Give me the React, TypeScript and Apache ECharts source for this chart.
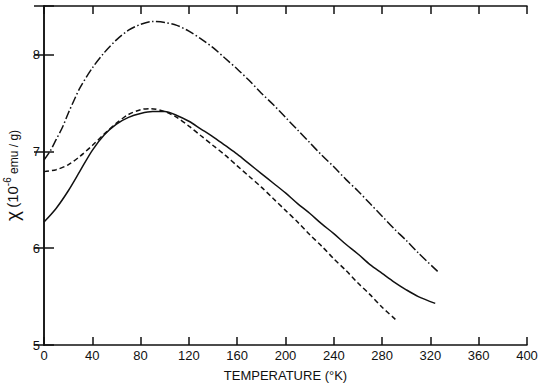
import React, { useEffect, useRef } from "react";
import * as echarts from "echarts";

const xTicks = [0, 40, 80, 120, 160, 200, 240, 280, 320, 360, 400];
const yTicks = [5, 6, 7, 8];

const solidT = [0, 10, 20, 30, 40, 50, 60, 70, 80, 90, 100, 110, 120, 130, 140, 150, 160, 170, 180, 190, 200, 210, 220, 230, 240, 250, 260, 270, 280, 290, 300, 310, 324];
const solidV = [6.27, 6.41, 6.59, 6.8, 7.01, 7.17, 7.28, 7.35, 7.39, 7.41, 7.41, 7.37, 7.31, 7.23, 7.15, 7.06, 6.97, 6.87, 6.77, 6.67, 6.57, 6.46, 6.36, 6.25, 6.15, 6.04, 5.94, 5.83, 5.74, 5.65, 5.57, 5.5, 5.43];

const dashT = [0, 10, 20, 30, 40, 50, 60, 70, 80, 88, 100, 110, 120, 130, 140, 150, 160, 170, 180, 190, 200, 210, 220, 230, 240, 250, 260, 270, 280, 291];
const dashV = [6.79, 6.81, 6.86, 6.95, 7.06, 7.18, 7.29, 7.38, 7.43, 7.44, 7.41, 7.35, 7.26, 7.16, 7.06, 6.96, 6.85, 6.74, 6.63, 6.51, 6.39, 6.27, 6.14, 6.02, 5.89, 5.77, 5.64, 5.52, 5.39, 5.265];

const dashDotT = [0, 5, 10, 15, 20, 25, 30, 40, 50, 60, 70, 80, 90, 100, 110, 120, 130, 140, 150, 160, 170, 180, 190, 200, 210, 220, 230, 240, 250, 260, 270, 280, 290, 300, 310, 326];
const dashDotV = [6.91, 7.0, 7.12, 7.24, 7.39, 7.53, 7.66, 7.86, 8.02, 8.15, 8.25, 8.31, 8.34, 8.33, 8.3, 8.24, 8.16, 8.07, 7.96, 7.85, 7.73, 7.6, 7.48, 7.35, 7.22, 7.09, 6.96, 6.84, 6.71, 6.59, 6.46, 6.33, 6.2, 6.08, 5.95, 5.76];

const pairs = (t: number[], v: number[]) => t.map((x, i) => [x, v[i]]);

const FONT = "Liberation Sans";

export default function App() {
  const ref = useRef<HTMLDivElement>(null);
  useEffect(() => {
    if (!ref.current) return;
    const chart = echarts.init(ref.current, null, { renderer: "svg" });
    const axisLine = { show: true, lineStyle: { color: "#111", width: 1.5 } };
    const tick = { show: true, inside: true, length: 8, lineStyle: { color: "#111", width: 1.5 } };
    const lineSeries = (name: string, data: number[][], type: any) => ({
      name,
      type: "line",
      data,
      smooth: 0.3,
      showSymbol: false,
      lineStyle: { color: "#111", width: 1.5, type },
      animation: false,
    });
    chart.setOption({
      animation: false,
      backgroundColor: "#fff",
      grid: { left: 44, right: 13, top: 6, bottom: 40, containLabel: false, outerBoundsMode: "none" },
      xAxis: [
        {
          type: "value",
          min: 0,
          max: 400,
          interval: 40,
          position: "bottom",
          axisLine,
          axisTick: tick,
          splitLine: { show: false },
          axisLabel: {
            color: "#111",
            fontFamily: FONT,
            fontSize: 13,
            margin: 4,
            formatter: (v: number) => (xTicks.includes(v) ? String(v) : ""),
          },
          name: "TEMPERATURE (°K)",
          nameLocation: "middle",
          nameGap: 24,
          nameTextStyle: { color: "#111", fontFamily: FONT, fontSize: 13 },
        },
        {
          type: "value",
          min: 0,
          max: 400,
          interval: 40,
          position: "top",
          axisLine,
          axisTick: tick,
          axisLabel: { show: false },
          splitLine: { show: false },
        },
      ],
      yAxis: [
        {
          type: "value",
          min: 5,
          max: 8.5,
          interval: 1,
          position: "left",
          axisLine,
          axisTick: { ...tick, length: 10 },
          splitLine: { show: false },
          axisLabel: {
            color: "#111",
            fontFamily: FONT,
            fontSize: 13,
            margin: 4,
            formatter: (v: number) => (yTicks.includes(v) ? String(v) : ""),
          },
          name: "{a|χ} {b|(10}{sup|-6}{c| emu / g)}",
          nameLocation: "middle",
          nameGap: 19,
          nameRotate: 90,
          nameTextStyle: {
            color: "#111",
            fontFamily: FONT,
            rich: {
              a: { fontSize: 19, fontFamily: FONT, color: "#111" },
              b: { fontSize: 15, fontFamily: FONT, color: "#111" },
              sup: { fontSize: 10, fontFamily: FONT, color: "#111", padding: [0, 0, 9, 0] },
              c: { fontSize: 12, fontFamily: FONT, color: "#111", padding: [4, 0, 0, 0] },
            },
          },
        },
        {
          type: "value",
          min: 5,
          max: 8.5,
          interval: 1,
          position: "right",
          axisLine,
          axisTick: { ...tick, length: 10 },
          axisLabel: { show: false },
          splitLine: { show: false },
        },
      ],
      series: [
        lineSeries("solid", pairs(solidT, solidV), "solid"),
        lineSeries("dashed", pairs(dashT, dashV), [5, 3]),
        lineSeries("dashdot", pairs(dashDotT, dashDotV), [9, 2.5, 1.5, 2.5]),
      ],
    });
    return () => chart.dispose();
  }, []);
  return <div ref={ref} style={{ width: 540, height: 385, position: "absolute", left: 0, top: 0 }} />;
}
